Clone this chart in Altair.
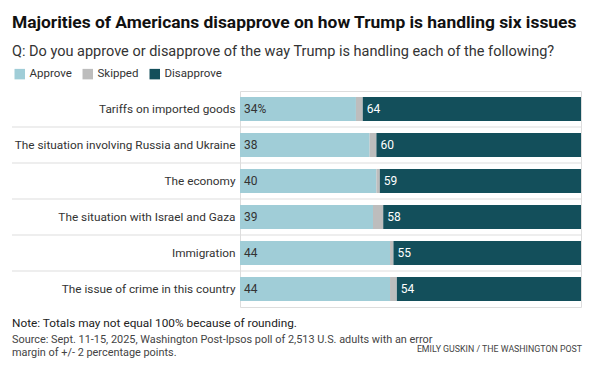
import altair as alt
import pandas as pd

# ---- data ----
issues = [
    "Tariffs on imported goods",
    "The situation involving Russia and Ukraine",
    "The economy",
    "The situation with Israel and Gaza",
    "Immigration",
    "The issue of crime in this country",
]
approve = [34, 38, 40, 39, 44, 44]
skipped = [2, 2, 1, 3, 1, 2]
disapprove = [64, 60, 59, 58, 55, 54]

responses = ["Approve", "Skipped", "Disapprove"]
colors = ["#a0cdd7", "#bdbdbd", "#134f5b"]

title_text = "Majorities of Americans disapprove on how Trump is handling six issues"
subtitle_text = "Q: Do you approve or disapprove of the way Trump is handling each of the following?"
note_text = "Note: Totals may not equal 100% because of rounding."
source_text = ("Source: Sept. 11-15, 2025, Washington Post-Ipsos poll of 2,513 U.S. adults with an error\n"
               "margin of +/- 2 percentage points.")
credit_text = "EMILY GUSKIN / THE WASHINGTON POST"

FONT = "Roboto"

# ---- build table ----
rows = []
for i, issue in enumerate(issues):
    start = 0
    for resp, vals in zip(responses, (approve, skipped, disapprove)):
        v = vals[i]
        label = f"{v}%" if (i == 0 and resp == "Approve") else str(v)
        rows.append(dict(issue=issue, response=resp, value=v, start=start,
                         end=start + v, label=label))
        start += v
df = pd.DataFrame(rows)
sep_df = pd.DataFrame({"issue": issues[:-1]})

yscale = alt.Scale(domain=issues, paddingInner=1 / 3, paddingOuter=1 / 6)
yaxis = alt.Axis(title=None, ticks=False, domain=False, labelPadding=5,
                 labelFontSize=11.8, labelColor="#333333", labelLimit=400,
                 labelFont=FONT)
Y = alt.Y("issue:N", scale=yscale, axis=yaxis, sort=issues)
xscale = alt.Scale(domain=[0, 100], nice=False, zero=True)

base = alt.Chart(df)

bars = base.mark_bar().encode(
    y=Y,
    x=alt.X("start:Q", scale=xscale, axis=None),
    x2="end:Q",
    color=alt.Color(
        "response:N",
        scale=alt.Scale(domain=responses, range=colors),
        legend=alt.Legend(
            title=None, orient="none", direction="horizontal",
            legendX=-226, legendY=-23, symbolType="square", symbolSize=110,
            symbolStrokeWidth=0, labelFontSize=11.5, labelColor="#333333",
            labelFont=FONT, columnPadding=10, labelOffset=4,
        ),
    ),
)

approve_labels = base.transform_filter(alt.datum.response == "Approve").mark_text(
    align="left", baseline="middle", dx=4, fontSize=12, color="#333333", font=FONT
).encode(y=Y, x=alt.X("start:Q", scale=xscale, axis=None), text="label:N")

dis_labels = base.transform_filter(alt.datum.response == "Disapprove").mark_text(
    align="left", baseline="middle", dx=4, fontSize=12, color="white", font=FONT
).encode(y=Y, x=alt.X("start:Q", scale=xscale, axis=None), text="label:N")

seps = alt.Chart(sep_df).mark_rule(color="#dddddd", strokeWidth=1, yOffset=18).encode(
    y=Y, x=alt.value(-228), x2=alt.value(342)
)

one = pd.DataFrame({"note": [note_text], "source": [source_text], "credit": [credit_text]})
note = alt.Chart(one).mark_text(
    align="left", baseline="middle", fontSize=11.8, color="#222222", font=FONT
).encode(x=alt.value(-228), y=alt.value(232), text="note:N")
source = alt.Chart(one).mark_text(
    align="left", baseline="middle", fontSize=10.9, color="#444444", font=FONT,
    lineBreak="\n", lineHeight=13
).encode(x=alt.value(-228), y=alt.value(249), text="source:N")
credit = alt.Chart(one).mark_text(
    align="right", baseline="middle", fontSize=8.8, color="#444444", font=FONT
).encode(x=alt.value(342), y=alt.value(258), text="credit:N")

chart = alt.layer(seps, bars, approve_labels, dis_labels, note, source, credit).properties(
    width=341,
    height=216,
    padding={"left": 232, "top": 83, "right": 18, "bottom": 64},
    autosize=alt.AutoSizeParams(type="none"),
    title=alt.Title(
        title_text, subtitle=subtitle_text, anchor="start", frame="group", dx=-228,
        offset=10, fontSize=17.4, fontWeight="bold", color="#111111", font=FONT,
        subtitleFontSize=14.5, subtitleColor="#333333", subtitleFont=FONT,
        subtitlePadding=13,
    ),
).configure_view(stroke=None).configure(background="white")

chart.save("out.html", embed_options={"renderer": "svg", "actions": False})
